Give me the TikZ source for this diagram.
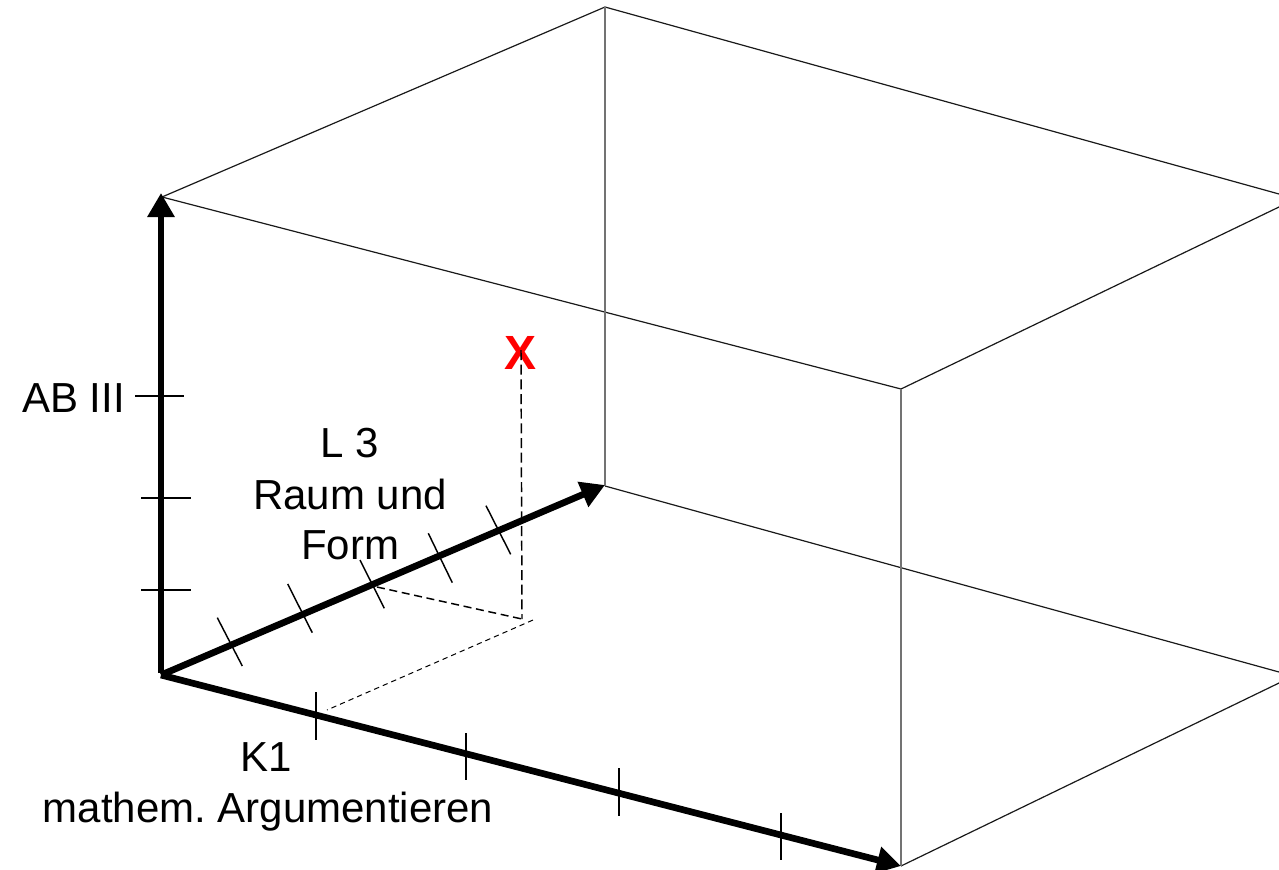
\documentclass[tikz,border=0pt]{standalone}
\usepackage{fontspec}
\setmainfont{Liberation Sans}
\usetikzlibrary{arrows.meta}
\frenchspacing
\begin{document}
\begin{tikzpicture}[x=0.75pt,y=-0.75pt,
  edge/.style={line width=0.9pt, black!90},
  vedge/.style={line width=0.8pt, black!55},
  axis/.style={line width=5pt, -{Triangle[length=18pt,width=19.5pt]}},
  tickline/.style={line width=1.1pt},
  lbl/.style={inner sep=0pt, anchor=base, font=\fontsize{31.5}{38}\selectfont},
  mark x/.style={inner sep=0pt, text=red, font=\fontsize{36}{40}\selectfont\bfseries},
  dashv/.style={line width=1.1pt, dash pattern=on 7.5pt off 3.5pt},
  dashm/.style={line width=1.1pt, dash pattern=on 6pt off 3.5pt},
  dashf/.style={line width=0.75pt, dash pattern=on 4pt off 3pt}]
\useasboundingbox (0,0) rectangle (1279,869);
\clip (0,0) rectangle (1279,869);
% corners
\coordinate (O) at (161,673);
\coordinate (A) at (162,197);
\coordinate (B) at (605,7);
\coordinate (D) at (901,389);
\coordinate (E) at (605,486);
\coordinate (F) at (901,866);
\coordinate (Atip) at (161,193);
\coordinate (Etip) at (605,485);
\coordinate (Ftip) at (901,866);
\coordinate (Cr1) at (1279,194);
\coordinate (Cr2) at (1279,207);
\coordinate (Gr1) at (1279,672);
\coordinate (Gr2) at (1279,683);
% box
\draw[edge] (A) -- (B) -- (Cr1);
\draw[edge] (A) -- (D) -- (Cr2);
\draw[edge] (E) -- (Gr1);
\draw[edge] (F) -- (Gr2);
\draw[vedge] (B) -- (E);
\draw[vedge] (D) -- (F);
% axes
\draw[axis] (O) -- (Atip);
\draw[axis] (161,675) -- (Etip);
\draw[axis] (161,675) -- (Ftip);
% vertical ticks
\draw[tickline] (135,396) -- (184,396);
\draw[tickline] (141,498) -- (191,498);
\draw[tickline] (141,590) -- (191,590);
% L ticks
\draw[tickline] (217.3,617.7) -- (242.3,666);
\draw[tickline] (287.7,584) -- (312.3,632.7);
\draw[tickline] (360,560) -- (384.3,608.3);
\draw[tickline] (428.3,533.3) -- (452.3,582.7);
\draw[tickline] (486,505.7) -- (510.7,554.3);
% K ticks
\draw[tickline] (316,692) -- (316,740);
\draw[tickline] (466,733) -- (466,780);
\draw[tickline] (619,768) -- (619,816);
\draw[tickline] (781,813) -- (781,860);
% labels
\node[lbl, anchor=base east] (ab) at (125,412) {AB III};
\node[lbl] (l3a) at (350,457) {L 3};
\node[lbl] (l3b) at (350,509) {Raum und};
\node[lbl] (l3c) at (350,559) {Form};
\node[lbl] (k1a) at (266,771) {K1};
\node[lbl] (k1b) at (268,822) {mathem. Argumentieren};
% point
\node[mark x] (X) at (521,353) {X};
\coordinate (P) at (522,619);
\coordinate (Lp) at (377,587);
\coordinate (Pf) at (533,620);
\coordinate (Kp) at (327,710);
\draw[dashv] (521,350) -- (P);
\draw[dashm] (Lp) -- (P);
\draw[dashf] (Pf) -- (Kp);
\end{tikzpicture}
\end{document}
